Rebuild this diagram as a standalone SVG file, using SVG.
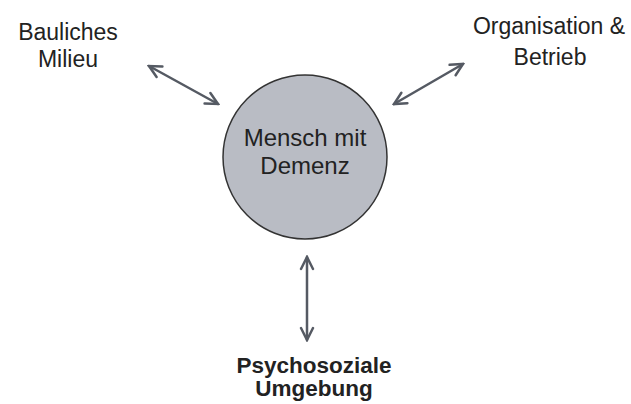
<svg xmlns="http://www.w3.org/2000/svg" width="631" height="404" viewBox="0 0 631 404">
<style>
text{font-family:"Liberation Sans",Arial,sans-serif;font-size:23px;fill:#222;text-anchor:middle}
.b{font-weight:bold;font-size:22.5px}
.m{font-size:24px}
.c{stroke:#555a63;stroke-width:2.5;fill:none;stroke-linecap:round}
</style>
<defs>
<marker id="ah" viewBox="-14 -8 16 16" markerWidth="16" markerHeight="16" refX="0" refY="0" markerUnits="userSpaceOnUse" orient="auto-start-reverse">
<path d="M-12,-6 L0,0 L-12,6" fill="none" stroke="#555a63" stroke-width="2.5" stroke-linecap="round" stroke-linejoin="miter"/>
</marker>
</defs>
<rect width="631" height="404" fill="#fff"/>
<g id="connectors">
<line class="c" x1="149" y1="66" x2="218" y2="104" marker-start="url(#ah)" marker-end="url(#ah)"/>
<line class="c" x1="463" y1="64" x2="394" y2="104" marker-start="url(#ah)" marker-end="url(#ah)"/>
<line class="c" x1="307" y1="257" x2="307" y2="340" marker-start="url(#ah)" marker-end="url(#ah)"/>
</g>
<g id="center">
<circle cx="305" cy="157" r="82" fill="#b9bcc4" stroke="#333" stroke-width="1.5"/>
<text class="m" x="305" y="146">Mensch mit</text>
<text class="m" x="305" y="174">Demenz</text>
</g>
<g id="bauliches">
<text x="68" y="39.5">Bauliches</text>
<text x="68" y="67">Milieu</text>
</g>
<g id="organisation">
<text x="549" y="34">Organisation &amp;</text>
<text x="550" y="65">Betrieb</text>
</g>
<g id="psychosozial">
<text class="b" x="314" y="373">Psychosoziale</text>
<text class="b" x="314" y="396">Umgebung</text>
</g>
</svg>
